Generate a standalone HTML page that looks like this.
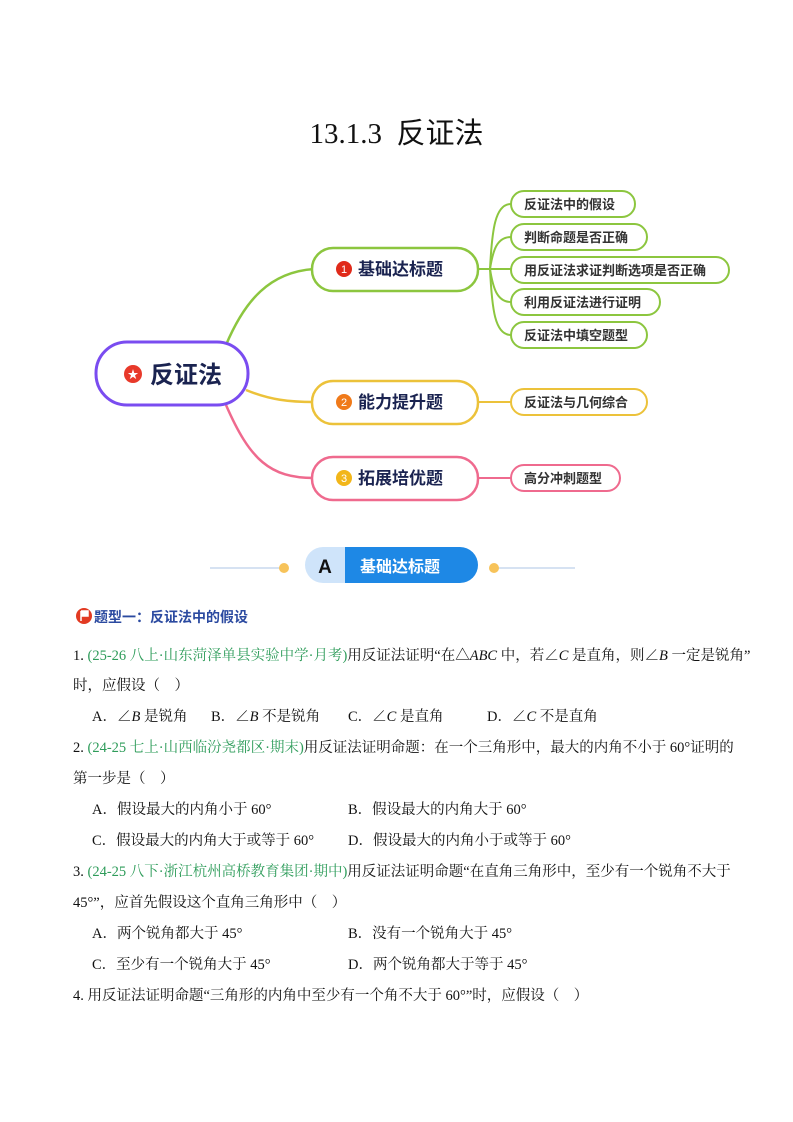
<!DOCTYPE html>
<html><head><meta charset="utf-8"><style>
body{margin:0;background:#fff;}
.p{position:relative;width:793px;height:1122px;overflow:hidden;font-family:"Liberation Serif","Noto Serif CJK SC",serif;color:#111;}
.t{position:absolute;font-size:14.5px;white-space:nowrap;}
.g{color:#2e9c5a;}
i{font-style:italic;}
</style></head><body><div class="p">
<div class="t" style="left:0;width:793px;text-align:center;top:110px;font-size:29px;">13.1.3&nbsp; <span style="font-family:'Noto Sans CJK SC',sans-serif">反证法</span></div>
<svg width="793" height="640" style="position:absolute;left:0;top:0" font-family="Liberation Sans,Noto Sans CJK SC,sans-serif">
<g fill="none" stroke-width="2.5">
<path d="M226 345 C245 300,270 272,314 269" stroke="#8cc63f"/>
<path d="M246 390 C270 400,290 402,314 402" stroke="#ecc23a"/>
<path d="M226 405 C250 460,270 478,314 478" stroke="#ef6a8e"/>
<g stroke="#8cc63f" stroke-width="2">
<path d="M478 269 H511"/>
<path d="M490 269 C492 230,495 204,511 204"/>
<path d="M490 269 C493 250,497 237,511 237"/>
<path d="M490 269 C493 288,497 302,511 302"/>
<path d="M490 269 C492 310,495 335,511 335"/>
</g>
<path d="M478 402 H511" stroke="#ecc23a" stroke-width="2"/>
<path d="M478 478 H511" stroke="#ef6a8e" stroke-width="2"/>
<rect x="96" y="342" width="152" height="63" rx="31" stroke="#7a4cf0" stroke-width="3" fill="#fff"/>
<rect x="312" y="248" width="166" height="43" rx="21" stroke="#8cc63f" fill="#fff"/>
<rect x="312" y="381" width="166" height="43" rx="21" stroke="#ecc23a" fill="#fff"/>
<rect x="312" y="457" width="166" height="43" rx="21" stroke="#ef6a8e" fill="#fff"/>
<g stroke-width="2" fill="#fff">
<rect x="511" y="191" width="124" height="26" rx="13" stroke="#8cc63f"/>
<rect x="511" y="224" width="136" height="26" rx="13" stroke="#8cc63f"/>
<rect x="511" y="257" width="218" height="26" rx="13" stroke="#8cc63f"/>
<rect x="511" y="289" width="149" height="26" rx="13" stroke="#8cc63f"/>
<rect x="511" y="322" width="136" height="26" rx="13" stroke="#8cc63f"/>
<rect x="511" y="389" width="136" height="26" rx="13" stroke="#ecc23a"/>
<rect x="511" y="465" width="109" height="26" rx="13" stroke="#ef6a8e"/>
</g></g>
<circle cx="133" cy="374" r="9" fill="#e8392a"/><text x="133" y="378" font-size="11" fill="#fff" text-anchor="middle">★</text>
<text x="150" y="383" font-size="24" font-weight="bold" fill="#1a2350">反证法</text>
<circle cx="344" cy="269" r="8" fill="#e02a1a"/><text x="344" y="273" font-size="11" fill="#fff" text-anchor="middle">1</text>
<circle cx="344" cy="402" r="8" fill="#f07a1a"/><text x="344" y="406" font-size="11" fill="#fff" text-anchor="middle">2</text>
<circle cx="344" cy="478" r="8" fill="#f2b61a"/><text x="344" y="482" font-size="11" fill="#fff" text-anchor="middle">3</text>
<g font-size="17" font-weight="bold" fill="#1a2350">
<text x="358" y="275">基础达标题</text><text x="358" y="408">能力提升题</text><text x="358" y="484">拓展培优题</text></g>
<g font-size="13" font-weight="bold" fill="#333">
<text x="524" y="209">反证法中的假设</text><text x="524" y="242">判断命题是否正确</text>
<text x="524" y="275">用反证法求证判断选项是否正确</text><text x="524" y="307">利用反证法进行证明</text>
<text x="524" y="340">反证法中填空题型</text><text x="524" y="407">反证法与几何综合</text>
<text x="524" y="483">高分冲刺题型</text></g>
<line x1="210" y1="568" x2="283" y2="568" stroke="#c8d8ee" stroke-width="1.5"/>
<line x1="495" y1="568" x2="575" y2="568" stroke="#c8d8ee" stroke-width="1.5"/>
<circle cx="284" cy="568" r="5" fill="#f7c35a"/><circle cx="494" cy="568" r="5" fill="#f7c35a"/>
<path d="M323 547 H345 V583 H323 A18 18 0 0 1 323 547Z" fill="#cfe4fa"/>
<path d="M345 547 H460 A18 18 0 0 1 460 583 H345Z" fill="#1e88e5"/>
<text x="325" y="573" font-size="19" font-weight="bold" fill="#111" text-anchor="middle">A</text>
<text x="360" y="572" font-size="16" font-weight="bold" fill="#fff">基础达标题</text>
<circle cx="84" cy="616" r="8" fill="#e23a22"/><path d="M81 611 V621 M81 611 H88 V616 H81" stroke="#fff" stroke-width="1.5" fill="#fff"/>
<text x="94" y="622" font-size="14" font-weight="bold" fill="#2b4aa0">题型一：反证法中的假设</text>
</svg>
<div class="t" style="left:73px;top:644px">1. <span class="g">(25-26 八上·山东菏泽单县实验中学·月考)</span>用反证法证明“在△<i>ABC</i> 中，若∠<i>C</i> 是直角，则∠<i>B</i> 一定是锐角”</div>
<div class="t" style="left:73px;top:674px">时，应假设（　）</div>
<div class="t" style="left:92px;top:705px">A．∠<i>B</i> 是锐角</div>
<div class="t" style="left:211px;top:705px">B．∠<i>B</i> 不是锐角</div>
<div class="t" style="left:348px;top:705px">C．∠<i>C</i> 是直角</div>
<div class="t" style="left:487px;top:705px">D．∠<i>C</i> 不是直角</div>
<div class="t" style="left:73px;top:736px">2. <span class="g">(24-25 七上·山西临汾尧都区·期末)</span>用反证法证明命题：在一个三角形中，最大的内角不小于 60°证明的</div>
<div class="t" style="left:73px;top:767px">第一步是（　）</div>
<div class="t" style="left:92px;top:798px">A．假设最大的内角小于 60°</div>
<div class="t" style="left:348px;top:798px">B．假设最大的内角大于 60°</div>
<div class="t" style="left:92px;top:829px">C．假设最大的内角大于或等于 60°</div>
<div class="t" style="left:348px;top:829px">D．假设最大的内角小于或等于 60°</div>
<div class="t" style="left:73px;top:860px">3. <span class="g">(24-25 八下·浙江杭州高桥教育集团·期中)</span>用反证法证明命题“在直角三角形中，至少有一个锐角不大于</div>
<div class="t" style="left:73px;top:891px">45°”，应首先假设这个直角三角形中（　）</div>
<div class="t" style="left:92px;top:922px">A．两个锐角都大于 45°</div>
<div class="t" style="left:348px;top:922px">B．没有一个锐角大于 45°</div>
<div class="t" style="left:92px;top:953px">C．至少有一个锐角大于 45°</div>
<div class="t" style="left:348px;top:953px">D．两个锐角都大于等于 45°</div>
<div class="t" style="left:73px;top:984px">4. 用反证法证明命题“三角形的内角中至少有一个角不大于 60°”时，应假设（　）</div>
</div></body></html>
